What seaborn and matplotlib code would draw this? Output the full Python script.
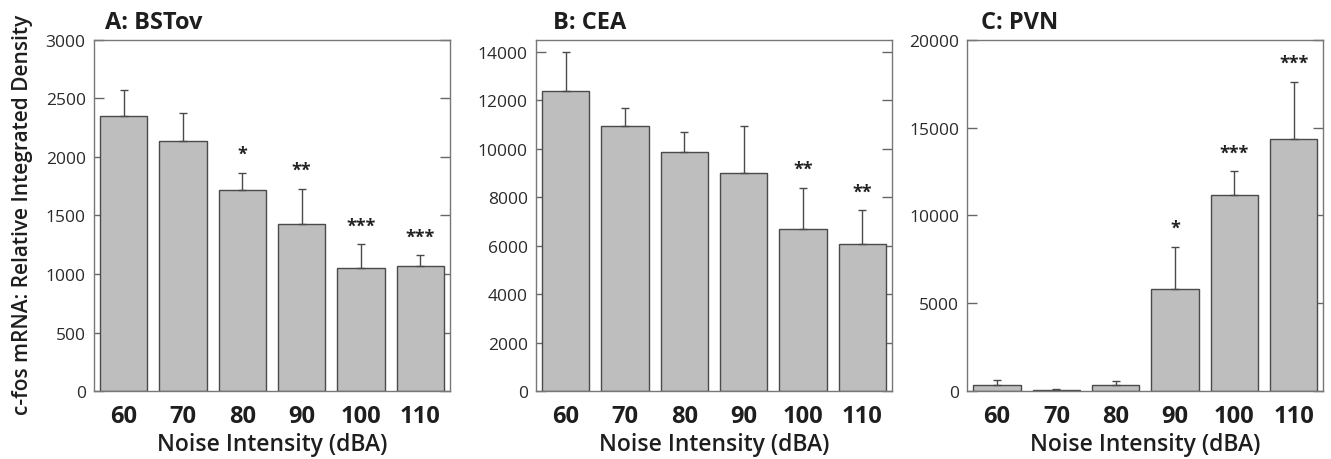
import numpy as np
import pandas as pd
import matplotlib
matplotlib.use('Agg')
import matplotlib.pyplot as plt
import seaborn as sns

# Noise levels (dBA)
noise = ['60', '70', '80', '90', '100', '110']

# A: BSTov
bstov_mean = [2350, 2135, 1715, 1425, 1050, 1065]
bstov_sem = [225, 245, 150, 305, 205, 95]
bstov_sig = ['', '', '*', '**', '***', '***']

# B: CEA
cea_mean = [12390, 10920, 9875, 9010, 6685, 6080]
cea_sem = [1610, 745, 810, 1910, 1690, 1375]
cea_sig = ['', '', '', '', '**', '**']

# C: PVN
pvn_mean = [330, 50, 330, 5830, 11150, 14340]
pvn_sem = [300, 60, 220, 2380, 1370, 3270]
pvn_sig = ['', '', '', '*', '***', '***']

panel_titles = ['A: BSTov', 'B: CEA', 'C: PVN']
y_max = [3000, 14480, 20000]
y_ticks = [np.arange(0, 3001, 500), np.arange(0, 14001, 2000), np.arange(0, 20001, 5000)]

sns.set_style('white')
plt.rcParams['font.family'] = ['Open Sans', 'DejaVu Sans']

fig = plt.figure(figsize=(13.31, 4.6), dpi=100)
lefts = [0.0706, 0.4027, 0.7268]
title_x = [0.0790, 0.4155, 0.7370]

data = [(bstov_mean, bstov_sem, bstov_sig),
        (cea_mean, cea_sem, cea_sig),
        (pvn_mean, pvn_sem, pvn_sig)]

for i, (means, sems, sig) in enumerate(data):
    ax = fig.add_axes([lefts[i], 0.1478, 0.2675, 0.7631])
    df = pd.DataFrame({'noise': noise, 'value': means})
    sns.barplot(data=df, x='noise', y='value', ax=ax, color='#bebebe',
                saturation=1, width=0.8, edgecolor='#4a4a4a', linewidth=1.0,
                errorbar=None)
    ax.errorbar(np.arange(len(noise)), means, yerr=[np.zeros(len(noise)), sems],
                fmt='none', ecolor='#4a4a4a', elinewidth=1.0, capsize=3, capthick=1.0)
    for j, s in enumerate(sig):
        if s:
            ax.annotate(s, (j, means[j] + sems[j]), xytext=(0, 10),
                        textcoords='offset points', ha='center', va='baseline',
                        fontsize=13, fontweight='bold', color='#222222')
    ax.set_xlim(-0.5, 5.5)
    ax.set_ylim(0, y_max[i])
    ax.set_yticks(y_ticks[i])
    ax.set_yticklabels([str(v) for v in y_ticks[i]], fontsize=12.5, color='#2a2a2a')
    ax.tick_params(axis='y', direction='in', length=7, width=1, color='#666666',
                   right=True, left=True, pad=6)
    ax.tick_params(axis='x', length=0, labelsize=17, pad=9)
    for lab in ax.get_xticklabels():
        lab.set_fontweight('bold')
        lab.set_color('#1e1e1e')
    for sp in ax.spines.values():
        sp.set_visible(True)
        sp.set_color('#777777')
        sp.set_linewidth(1.0)
    ax.set_xlabel('Noise Intensity (dBA)', fontsize=16.5, fontweight='semibold',
                  color='#1e1e1e', labelpad=3)
    ax.set_ylabel('')
    fig.text(title_x[i], 0.95, panel_titles[i], fontsize=17, fontweight='bold',
             color='#1e1e1e', ha='left', va='center')

fig.text(0.017, 0.532, 'c-fos mRNA: Relative Integrated Density', rotation=90,
         fontsize=15, fontweight='semibold', color='#1e1e1e', ha='center', va='center')

fig.savefig('out.png', dpi=100)
